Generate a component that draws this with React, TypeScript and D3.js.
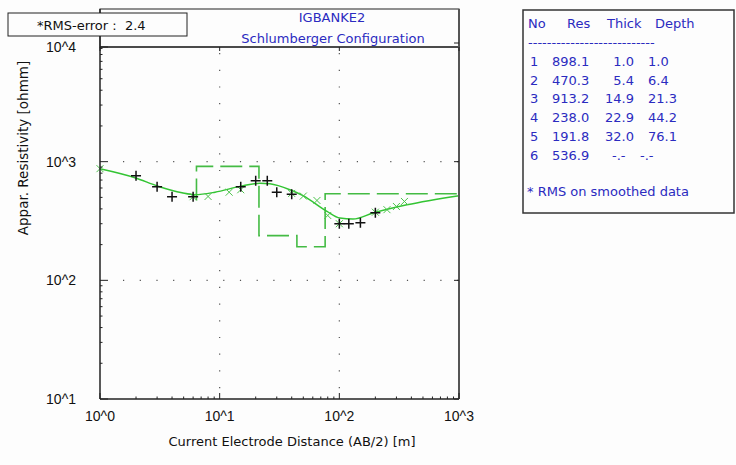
import React from "react";
import * as d3 from "d3";

// measured apparent resistivity (black +)
const measAb = [2, 3, 4, 6, 15, 20, 25, 30, 40, 100, 120, 150, 200];
const measRho = [762, 615, 507, 507, 615, 692, 692, 553, 532, 300, 300, 306, 372];

// smoothed data (green x)
const smoothAb = [1, 6, 8, 12, 15, 40, 50, 65, 80, 100, 200, 250, 300, 350];
const smoothRho = [873, 507, 509, 553, 580, 540, 513, 471, 352, 300, 375, 394, 419, 462];

// model response curve
const curveAb = [1, 1.96, 3.05, 4.84, 6.22, 9.14, 14.8, 21.7, 26.3, 38.7, 49.7, 78.8, 101, 130, 191, 367, 1000];
const curveRho = [873, 733, 621, 547, 527, 553, 619, 659, 652, 580, 517, 381, 335, 328, 369, 433, 517];

// layered model
const layerNo = [1, 2, 3, 4, 5, 6];
const layerRes = [898.1, 470.3, 913.2, 238.0, 191.8, 536.9];
const layerThick = ["1.0", "5.4", "14.9", "22.9", "32.0", "-.-"];
const layerDepth = [1.0, 6.4, 21.3, 44.2, 76.1];

const xTicks = [1, 10, 100, 1000];
const yTicks = [10, 100, 1000, 10000];
const tickLabel = (v: number) => "10^" + Math.round(Math.log10(v));

const W = 736;
const H = 465;
const left = 100;
const right = 459;
const top = 47;
const bottom = 399;

const font = "'DejaVu Sans', sans-serif";
const tickFont = "'Liberation Sans', Arial, sans-serif";
const blue = "#2b2bc0";
const green = "#33c433";

export default function App() {
  const x = d3.scaleLog().domain([1, 1000]).range([left, right]);
  const y = d3.scaleLog().domain([10, 10000]).range([bottom, 43]);

  const curve = d3
    .line<number>()
    .x((d, i) => x(curveAb[i]))
    .y((d) => y(d))
    .curve(d3.curveMonotoneX);

  // step model, drawn from the base of layer 2
  const steps: [number, number][] = [];
  for (let i = 1; i < layerRes.length; i++) {
    const x0 = layerDepth[i - 1];
    const x1 = i < layerDepth.length ? layerDepth[i] : 1000;
    steps.push([x0, layerRes[i - 1]]);
    steps.push([x0, layerRes[i]]);
    steps.push([x1, layerRes[i]]);
  }
  const stepPath = d3
    .line<[number, number]>()
    .x((d) => x(d[0]))
    .y((d) => y(d[1]))(steps.slice(2));

  const minor: number[] = [];
  [1, 10, 100].forEach((d) => {
    for (let k = 2; k <= 9; k++) minor.push(d * k);
  });
  const minorY: number[] = [];
  [10, 100, 1000].forEach((d) => {
    for (let k = 2; k <= 9; k++) minorY.push(d * k);
  });

  return (
    <svg
      width={W}
      height={H}
      style={{ position: "absolute", left: 0, top: 0, background: "#fdfdfd" }}
    >
      {/* title frame */}
      <rect x={left} y={9} width={right - left} height={top - 9} fill="none" stroke="#222" strokeWidth={1} />
      <text x={332} y={22} textAnchor="middle" fill={blue} fontFamily={font} fontSize={13}>
        IGBANKE2
      </text>
      <text x={333} y={43} textAnchor="middle" fill={blue} fontFamily={font} fontSize={13}>
        Schlumberger Configuration
      </text>

      {/* grid dots */}
      {[10, 100].map((v) => (
        <line key={"gx" + v} x1={x(v)} x2={x(v)} y1={top + 6} y2={bottom} stroke="#555" strokeWidth={1.2} strokeDasharray="1.2 15.5" />
      ))}
      {[100, 1000].map((v) => (
        <line key={"gy" + v} x1={left + 23} x2={right} y1={y(v)} y2={y(v)} stroke="#555" strokeWidth={1.2} strokeDasharray="1.2 15.5" />
      ))}

      {/* model */}
      <path d={stepPath || ""} fill="none" stroke="#44bb44" strokeWidth={1.6} strokeDasharray="22 7" />
      <path d={curve(curveRho) || ""} fill="none" stroke={green} strokeWidth={1.5} />

      {/* smoothed x markers */}
      {smoothAb.map((a, i) => {
        const cx = x(a);
        const cy = y(smoothRho[i]);
        return (
          <path key={"s" + i} d={`M${cx - 3.5},${cy - 3.5}L${cx + 3.5},${cy + 3.5}M${cx - 3.5},${cy + 3.5}L${cx + 3.5},${cy - 3.5}`} stroke="#4cc44c" strokeWidth={1} />
        );
      })}
      {/* measured + markers */}
      {measAb.map((a, i) => {
        const cx = x(a);
        const cy = y(measRho[i]);
        return (
          <path key={"m" + i} d={`M${cx - 5},${cy}L${cx + 5},${cy}M${cx},${cy - 5}L${cx},${cy + 5}`} stroke="#111" strokeWidth={1.5} />
        );
      })}

      {/* axes frame */}
      <line x1={left} x2={right} y1={top} y2={top} stroke="#333" strokeWidth={1.6} />
      <line x1={left} x2={right} y1={bottom} y2={bottom} stroke="#222" strokeWidth={1.5} />
      <line x1={left} x2={left} y1={9} y2={bottom} stroke="#222" strokeWidth={1.5} />
      <line x1={right} x2={right} y1={9} y2={bottom} stroke="#555" strokeWidth={2} />

      {/* ticks */}
      {minor.map((v) => (
        <line key={"mx" + v} x1={x(v)} x2={x(v)} y1={bottom} y2={bottom - 2.5} stroke="#222" />
      ))}
      {xTicks.map((v) => (
        <g key={"tx" + v}>
          <line x1={x(v)} x2={x(v)} y1={bottom} y2={bottom - 6} stroke="#222" />
          <line x1={x(v)} x2={x(v)} y1={top} y2={top + 4} stroke="#222" />
          <text x={x(v)} y={421} textAnchor="middle" fontFamily={tickFont} fontSize={14} fill="#111">
            {tickLabel(v)}
          </text>
        </g>
      ))}
      {minorY.map((v) => (
        <line key={"my" + v} x1={left} x2={left + 2.5} y1={y(v)} y2={y(v)} stroke="#222" />
      ))}
      {yTicks.map((v) => (
        <g key={"ty" + v}>
          <line x1={left} x2={left + 8} y1={v === 10000 ? top : y(v)} y2={v === 10000 ? top : y(v)} stroke="#222" />
          <line x1={right} x2={right - 5} y1={y(v)} y2={y(v)} stroke="#222" />
          <text x={76} y={(v === 10000 ? top : y(v)) + 5} textAnchor="end" fontFamily={tickFont} fontSize={14} fill="#111">
            {tickLabel(v)}
          </text>
        </g>
      ))}

      {/* rms box */}
      <rect x={8} y={13} width={179} height={23} fill="#fdfdfd" stroke="#222" strokeWidth={1} />
      <text x={37} y={30} fontFamily={font} fontSize={13} fill="#111" style={{ whiteSpace: "pre" }}>
        {"*RMS-error :  2.4"}
      </text>

      {/* axis titles */}
      <text x={292} y={446} textAnchor="middle" fontFamily={font} fontSize={13} fill="#111">
        Current Electrode Distance (AB/2) [m]
      </text>
      <text transform="translate(28,148) rotate(-90)" textAnchor="middle" fontFamily={font} fontSize={13.5} fill="#111">
        Appar. Resistivity [ohmm]
      </text>

      {/* layer table */}
      <rect x={523} y={10} width={211} height={203} fill="#fdfdfd" stroke="#333" strokeWidth={1.5} />
      <g fontFamily={font} fontSize={13} fill={blue}>
        <text x={528} y={28}>No</text>
        <text x={567} y={28}>Res</text>
        <text x={607} y={28}>Thick</text>
        <text x={655} y={28}>Depth</text>
        <text x={528} y={47}>---------------------------</text>
        {layerNo.map((n, i) => {
          const ty = 66 + i * 18.7;
          return (
            <g key={"row" + n}>
              <text x={530} y={ty}>{n}</text>
              <text x={552} y={ty}>{layerRes[i].toFixed(1)}</text>
              <text x={i === 5 ? 612 : 634} y={ty} textAnchor={i === 5 ? "start" : "end"}>{layerThick[i]}</text>
              <text x={i === 5 ? 640 : 648} y={ty}>{i < layerDepth.length ? layerDepth[i].toFixed(1) : "-.-"}</text>
            </g>
          );
        })}
        <text x={527} y={196}>* RMS on smoothed data</text>
      </g>
    </svg>
  );
}
